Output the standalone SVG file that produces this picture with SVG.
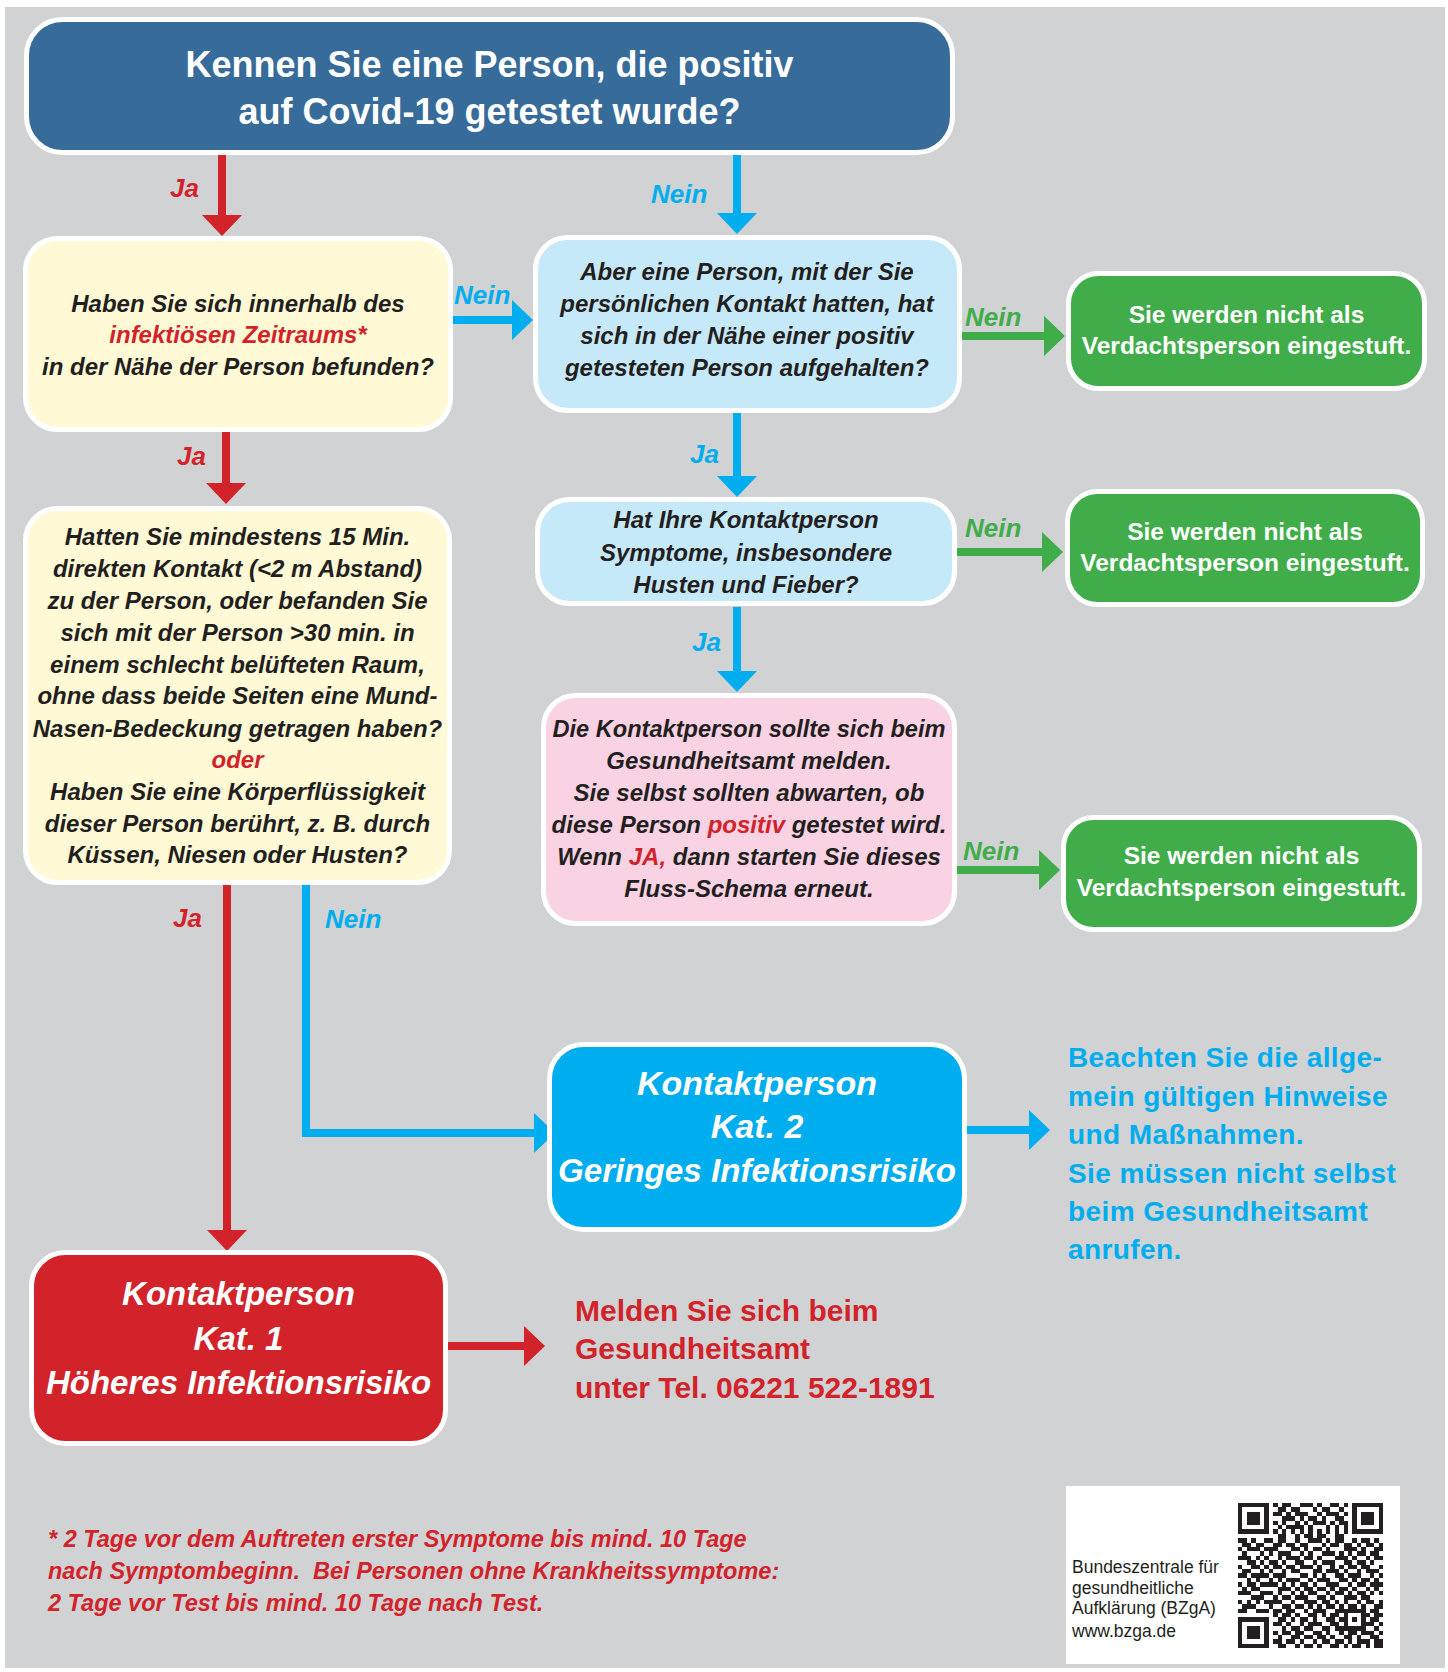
<svg xmlns="http://www.w3.org/2000/svg" width="1448" height="1672" viewBox="0 0 1448 1672">
<style>
.box{stroke:#fff;stroke-width:5}
.q{font-family:"Liberation Sans",Arial,sans-serif;font-weight:bold;font-style:italic;font-size:24px;fill:#231f20;text-anchor:middle}
.title{font-family:"Liberation Sans",Arial,sans-serif;font-weight:bold;font-size:36px;fill:#fff;text-anchor:middle}
.gt{font-family:"Liberation Sans",Arial,sans-serif;font-weight:bold;font-size:24.5px;fill:#fff;text-anchor:middle}
.kat{font-family:"Liberation Sans",Arial,sans-serif;font-weight:bold;font-style:italic;fill:#fff;text-anchor:middle}
.lbl{font-family:"Liberation Sans",Arial,sans-serif;font-weight:bold;font-style:italic;font-size:26px}
.red{fill:#d2232a}
.cy{fill:#00adee}
.gr{fill:#40ad4a}
.c{fill:none;stroke-width:8;stroke-linejoin:miter}
.side{font-family:"Liberation Sans",Arial,sans-serif;font-weight:bold}
.foot{font-family:"Liberation Sans",Arial,sans-serif;font-weight:bold;font-style:italic;font-size:23.5px;fill:#d2232a;white-space:pre}
.logo{font-family:"Liberation Sans",Arial,sans-serif;font-size:17.5px;fill:#231f20}
</style>
<defs>
<marker id="hR" viewBox="0 0 21 40" refX="0" refY="20" markerWidth="21" markerHeight="40" markerUnits="userSpaceOnUse" orient="auto"><path d="M0 0L21 20L0 40z" fill="#d2232a"/></marker>
<marker id="hB" viewBox="0 0 21 40" refX="0" refY="20" markerWidth="21" markerHeight="40" markerUnits="userSpaceOnUse" orient="auto"><path d="M0 0L21 20L0 40z" fill="#00adee"/></marker>
<marker id="hG" viewBox="0 0 21 40" refX="0" refY="20" markerWidth="21" markerHeight="40" markerUnits="userSpaceOnUse" orient="auto"><path d="M0 0L21 20L0 40z" fill="#40ad4a"/></marker>
</defs>
<rect width="1448" height="1672" fill="#fff"/>
<rect x="5" y="7" width="1440" height="1661" fill="#d1d2d4"/>

<g id="connectors">
<path class="c" stroke="#d2232a" d="M222 155V215" marker-end="url(#hR)"/>
<path class="c" stroke="#00adee" d="M737 155V213" marker-end="url(#hB)"/>
<path class="c" stroke="#00adee" d="M453 320H512" marker-end="url(#hB)"/>
<path class="c" stroke="#40ad4a" d="M962 336H1044" marker-end="url(#hG)"/>
<path class="c" stroke="#d2232a" d="M226 432V483" marker-end="url(#hR)"/>
<path class="c" stroke="#00adee" d="M737 413V476" marker-end="url(#hB)"/>
<path class="c" stroke="#40ad4a" d="M957 552H1042" marker-end="url(#hG)"/>
<path class="c" stroke="#00adee" d="M737 607V671" marker-end="url(#hB)"/>
<path class="c" stroke="#40ad4a" d="M957 870H1039" marker-end="url(#hG)"/>
<path class="c" stroke="#d2232a" d="M227 885V1230" marker-end="url(#hR)"/>
<path class="c" stroke="#00adee" d="M306 885V1133H534" marker-end="url(#hB)"/>
<path class="c" stroke="#00adee" d="M967 1130H1029" marker-end="url(#hB)"/>
<path class="c" stroke="#d2232a" d="M448 1346H524" marker-end="url(#hR)"/>
<text class="lbl red" x="170" y="197">Ja</text>
<text class="lbl cy" x="651" y="203">Nein</text>
<text class="lbl cy" x="454" y="304">Nein</text>
<text class="lbl gr" x="965" y="326">Nein</text>
<text class="lbl red" x="177" y="465">Ja</text>
<text class="lbl cy" x="690" y="463">Ja</text>
<text class="lbl gr" x="965" y="537">Nein</text>
<text class="lbl cy" x="692" y="651">Ja</text>
<text class="lbl gr" x="963" y="860">Nein</text>
<text class="lbl red" x="173" y="927">Ja</text>
<text class="lbl cy" x="325" y="928">Nein</text>
</g>

<g id="start">
<rect class="box" x="26.5" y="19.5" width="926" height="133" rx="36" fill="#376b99"/>
<text class="title" x="489.5" y="77">Kennen Sie eine Person, die positiv</text>
<text class="title" x="489.5" y="124">auf Covid-19 getestet wurde?</text>
</g>

<g id="q-zeitraum">
<rect class="box" x="25.5" y="238.5" width="425" height="191" rx="32" fill="#fff9d6"/>
<text class="q" x="238" y="312">Haben Sie sich innerhalb des</text>
<text class="q red" x="238" y="343">infektiösen Zeitraums*</text>
<text class="q" x="238" y="375">in der Nähe der Person befunden?</text>
</g>

<g id="q-kontakt">
<rect class="box" x="535.5" y="237.5" width="424" height="173" rx="32" fill="#c6e9f9"/>
<text class="q" x="747" y="280">Aber eine Person, mit der Sie</text>
<text class="q" x="747" y="312">persönlichen Kontakt hatten, hat</text>
<text class="q" x="747" y="344">sich in der Nähe einer positiv</text>
<text class="q" x="747" y="376">getesteten Person aufgehalten?</text>
</g>

<g id="q-symptome">
<rect class="box" x="537.5" y="499.5" width="417" height="104" rx="32" fill="#c6e9f9"/>
<text class="q" x="746" y="528">Hat Ihre Kontaktperson</text>
<text class="q" x="746" y="561">Symptome, insbesondere</text>
<text class="q" x="746" y="593">Husten und Fieber?</text>
</g>

<g id="abwarten">
<rect class="box" x="543.5" y="695.5" width="411" height="228" rx="32" fill="#f9d3e4"/>
<text class="q" x="749" y="737" textLength="393" lengthAdjust="spacingAndGlyphs">Die Kontaktperson sollte sich beim</text>
<text class="q" x="749" y="769">Gesundheitsamt melden.</text>
<text class="q" x="749" y="801">Sie selbst sollten abwarten, ob</text>
<text class="q" x="749" y="833">diese Person <tspan class="red">positiv</tspan> getestet wird.</text>
<text class="q" x="749" y="865">Wenn <tspan class="red">JA,</tspan> dann starten Sie dieses</text>
<text class="q" x="749" y="897">Fluss-Schema erneut.</text>
</g>

<g id="q-direkt">
<rect class="box" x="25.5" y="508.5" width="424" height="374" rx="32" fill="#fff9d6"/>
<text class="q" x="237.5" y="545">Hatten Sie mindestens 15 Min.</text>
<text class="q" x="237.5" y="577">direkten Kontakt (&lt;2 m Abstand)</text>
<text class="q" x="237.5" y="609">zu der Person, oder befanden Sie</text>
<text class="q" x="237.5" y="641">sich mit der Person &gt;30 min. in</text>
<text class="q" x="237.5" y="673">einem schlecht belüfteten Raum,</text>
<text class="q" x="237.5" y="704">ohne dass beide Seiten eine Mund-</text>
<text class="q" x="237.5" y="737">Nasen-Bedeckung getragen haben?</text>
<text class="q red" x="237.5" y="768">oder</text>
<text class="q" x="237.5" y="800">Haben Sie eine Körperflüssigkeit</text>
<text class="q" x="237.5" y="832">dieser Person berührt, z. B. durch</text>
<text class="q" x="237.5" y="863">Küssen, Niesen oder Husten?</text>
</g>

<g id="nicht1">
<rect class="box" x="1068.5" y="273.5" width="356" height="115" rx="30" fill="#40ad4a"/>
<text class="gt" x="1246.5" y="323">Sie werden nicht als</text>
<text class="gt" x="1246.5" y="354">Verdachtsperson eingestuft.</text>
</g>

<g id="nicht2">
<rect class="box" x="1067.5" y="491.5" width="355" height="113" rx="30" fill="#40ad4a"/>
<text class="gt" x="1245" y="540">Sie werden nicht als</text>
<text class="gt" x="1245" y="571">Verdachtsperson eingestuft.</text>
</g>

<g id="nicht3">
<rect class="box" x="1063.5" y="817.5" width="356" height="112" rx="30" fill="#40ad4a"/>
<text class="gt" x="1241.5" y="864">Sie werden nicht als</text>
<text class="gt" x="1241.5" y="896">Verdachtsperson eingestuft.</text>
</g>

<g id="kat2">
<rect class="box" x="549.5" y="1044.5" width="415" height="185" rx="34" fill="#00adee"/>
<text class="kat" font-size="34" x="757" y="1095">Kontaktperson</text>
<text class="kat" font-size="34" x="757" y="1138">Kat. 2</text>
<text class="kat" font-size="34" x="757" y="1182" textLength="398" lengthAdjust="spacingAndGlyphs">Geringes Infektionsrisiko</text>
</g>

<g id="kat2-hinweis">
<text class="side cy" font-size="28" letter-spacing="0.4">
<tspan x="1068" y="1067">Beachten Sie die allge-</tspan>
<tspan x="1068" y="1105.5">mein gültigen Hinweise</tspan>
<tspan x="1068" y="1144">und Maßnahmen.</tspan>
<tspan x="1068" y="1182.5">Sie müssen nicht selbst</tspan>
<tspan x="1068" y="1221">beim Gesundheitsamt</tspan>
<tspan x="1068" y="1259">anrufen.</tspan>
</text>
</g>

<g id="kat1">
<rect class="box" x="31.5" y="1252.5" width="414" height="191" rx="34" fill="#d2232a"/>
<text class="kat" font-size="33" x="238.5" y="1305">Kontaktperson</text>
<text class="kat" font-size="33" x="238.5" y="1350">Kat. 1</text>
<text class="kat" font-size="33" x="238.5" y="1394">Höheres Infektionsrisiko</text>
</g>

<g id="kat1-hinweis">
<text class="side red" font-size="30">
<tspan x="575" y="1321">Melden Sie sich beim</tspan>
<tspan x="575" y="1359">Gesundheitsamt</tspan>
<tspan x="575" y="1398">unter Tel. 06221 522-1891</tspan>
</text>
</g>

<g id="fussnote">
<text class="foot" xml:space="preserve"><tspan x="48" y="1547">* 2 Tage vor dem Auftreten erster Symptome bis mind. 10 Tage</tspan><tspan x="48" y="1579">nach Symptombeginn.  Bei Personen ohne Krankheitssymptome:</tspan><tspan x="48" y="1611">2 Tage vor Test bis mind. 10 Tage nach Test.</tspan></text>
</g>

<g id="bzga">
<rect x="1066" y="1486" width="334" height="178" fill="#fff"/>
<text class="logo">
<tspan x="1072" y="1573">Bundeszentrale für</tspan>
<tspan x="1072" y="1594">gesundheitliche</tspan>
<tspan x="1072" y="1614">Aufklärung (BZgA)</tspan>
<tspan x="1072" y="1637">www.bzga.de</tspan>
</text>
<g transform="translate(1238,1503) scale(4.4)">
<path fill="none" stroke="#231f20" stroke-width="1" shape-rendering="crispEdges" d="M0 .5h7M8 .5h1M10 .5h2M14 .5h3M18 .5h1M21 .5h2M24 .5h1M26 .5h7
M0 1.5h1M6 1.5h1M9 1.5h2M12 1.5h2M17 1.5h1M19 1.5h2M23 1.5h1M26 1.5h1M32 1.5h1
M0 2.5h1M2 2.5h3M6 2.5h1M8 2.5h2M11 2.5h1M13 2.5h3M18 2.5h1M20 2.5h3M24 2.5h1M26 2.5h1M28 2.5h3M32 2.5h1
M0 3.5h1M2 3.5h3M6 3.5h1M10 3.5h3M14 3.5h1M16 3.5h2M19 3.5h1M22 3.5h2M26 3.5h1M28 3.5h3M32 3.5h1
M0 4.5h1M2 4.5h3M6 4.5h1M8 4.5h1M10 4.5h1M13 4.5h1M15 4.5h1M17 4.5h3M21 4.5h1M23 4.5h2M26 4.5h1M28 4.5h3M32 4.5h1
M0 5.5h1M6 5.5h1M9 5.5h1M11 5.5h4M16 5.5h1M20 5.5h1M22 5.5h1M24 5.5h1M26 5.5h1M32 5.5h1
M0 6.5h7M8 6.5h1M10 6.5h1M12 6.5h1M14 6.5h1M16 6.5h1M18 6.5h1M20 6.5h1M22 6.5h1M24 6.5h1M26 6.5h7
M9 7.5h2M13 7.5h1M15 7.5h2M18 7.5h2M22 7.5h2
M0 8.5h2M3 8.5h1M6 8.5h2M9 8.5h2M13 8.5h1M16 8.5h3M20 8.5h1M22 8.5h2M26 8.5h1M28 8.5h2M31 8.5h1
M1 9.5h2M4 9.5h2M8 9.5h2M11 9.5h2M14 9.5h2M19 9.5h1M21 9.5h2M24 9.5h2M27 9.5h1M29 9.5h2M32 9.5h1
M0 10.5h1M2 10.5h3M6 10.5h3M12 10.5h2M15 10.5h1M17 10.5h2M20 10.5h1M24 10.5h3M28 10.5h1M31 10.5h2
M1 11.5h1M5 11.5h1M7 11.5h1M9 11.5h3M14 11.5h1M16 11.5h1M19 11.5h3M23 11.5h1M25 11.5h1M27 11.5h2M30 11.5h2
M0 12.5h3M4 12.5h1M6 12.5h1M9 12.5h1M11 12.5h3M15 12.5h2M18 12.5h1M22 12.5h3M26 12.5h1M29 12.5h1M31 12.5h2
M2 13.5h2M5 13.5h1M7 13.5h2M10 13.5h1M13 13.5h2M17 13.5h1M19 13.5h3M24 13.5h2M27 13.5h2M30 13.5h1
M0 14.5h1M3 14.5h2M6 14.5h1M8 14.5h2M11 14.5h2M14 14.5h3M18 14.5h1M21 14.5h1M23 14.5h1M25 14.5h2M28 14.5h2M32 14.5h1
M1 15.5h2M5 15.5h1M7 15.5h1M10 15.5h1M12 15.5h2M17 15.5h2M20 15.5h3M24 15.5h1M27 15.5h1M29 15.5h3
M0 16.5h2M3 16.5h4M8 16.5h3M14 16.5h2M17 16.5h1M19 16.5h1M22 16.5h2M25 16.5h3M30 16.5h1M32 16.5h1
M2 17.5h1M4 17.5h1M7 17.5h1M9 17.5h1M11 17.5h3M16 17.5h1M18 17.5h3M23 17.5h2M26 17.5h1M28 17.5h2M31 17.5h1
M0 18.5h1M2 18.5h2M5 18.5h4M10 18.5h1M12 18.5h1M14 18.5h2M17 18.5h1M20 18.5h3M25 18.5h1M27 18.5h2M30 18.5h3
M1 19.5h1M3 19.5h2M9 19.5h3M13 19.5h1M15 19.5h2M18 19.5h2M21 19.5h1M23 19.5h2M26 19.5h1M29 19.5h1M31 19.5h1
M0 20.5h3M5 20.5h3M9 20.5h1M12 20.5h1M14 20.5h1M16 20.5h2M20 20.5h1M22 20.5h2M25 20.5h1M27 20.5h2M30 20.5h1M32 20.5h1
M3 21.5h3M8 21.5h1M10 21.5h2M13 21.5h3M18 21.5h2M21 21.5h1M24 21.5h3M28 21.5h2
M0 22.5h1M2 22.5h1M4 22.5h1M6 22.5h4M12 22.5h1M15 22.5h3M19 22.5h2M22 22.5h1M24 22.5h1M27 22.5h1M29 22.5h2M32 22.5h1
M1 23.5h3M7 23.5h1M10 23.5h2M13 23.5h2M16 23.5h1M18 23.5h1M20 23.5h2M23 23.5h1M25 23.5h2M28 23.5h1M31 23.5h2
M0 24.5h2M4 24.5h3M8 24.5h2M11 24.5h2M15 24.5h1M17 24.5h3M22 24.5h7M30 24.5h2
M8 25.5h1M10 25.5h2M13 25.5h1M16 25.5h2M19 25.5h1M21 25.5h2M24 25.5h1M28 25.5h2M31 25.5h2
M0 26.5h7M9 26.5h2M12 26.5h1M14 26.5h2M17 26.5h1M20 26.5h2M23 26.5h2M26 26.5h1M28 26.5h1M30 26.5h2
M0 27.5h1M6 27.5h1M8 27.5h2M11 27.5h1M14 27.5h1M16 27.5h3M21 27.5h2M24 27.5h1M28 27.5h3M32 27.5h1
M0 28.5h1M2 28.5h3M6 28.5h1M10 28.5h1M12 28.5h2M15 28.5h2M19 28.5h2M22 28.5h7M31 28.5h1
M0 29.5h1M2 29.5h3M6 29.5h1M8 29.5h1M10 29.5h2M13 29.5h2M17 29.5h2M20 29.5h1M23 29.5h1M25 29.5h2M28 29.5h3M32 29.5h1
M0 30.5h1M2 30.5h3M6 30.5h1M9 30.5h1M12 30.5h2M15 30.5h2M18 30.5h2M21 30.5h1M24 30.5h2M27 30.5h1M30 30.5h2
M0 31.5h1M6 31.5h1M8 31.5h2M11 31.5h2M14 31.5h1M17 31.5h1M19 31.5h2M22 31.5h2M25 31.5h1M27 31.5h3M31 31.5h2
M0 32.5h7M9 32.5h2M13 32.5h1M15 32.5h2M18 32.5h1M21 32.5h2M24 32.5h1M26 32.5h2M29 32.5h1M31 32.5h2"/>
</g>
</g>
</svg>
